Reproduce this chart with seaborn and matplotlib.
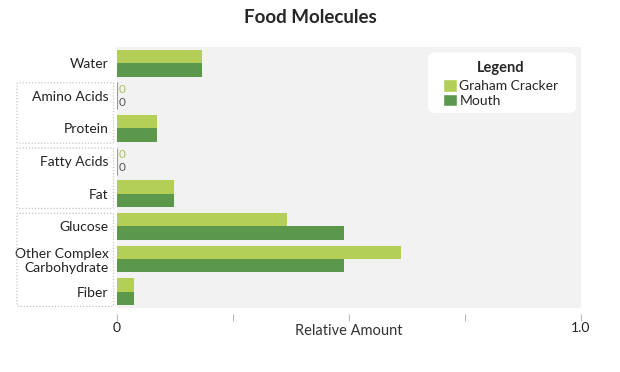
import matplotlib
matplotlib.use("Agg")
import matplotlib.pyplot as plt
import matplotlib.transforms as mtransforms
from matplotlib.patches import FancyBboxPatch, Patch
import pandas as pd
import seaborn as sns

categories = ["Water", "Amino Acids", "Protein", "Fatty Acids", "Fat",
              "Glucose", "Other Complex\nCarbohydrate", "Fiber"]
graham_cracker = [0.183, 0.0, 0.086, 0.0, 0.123, 0.366, 0.612, 0.037]
mouth = [0.183, 0.0, 0.086, 0.0, 0.123, 0.489, 0.489, 0.037]
series = ["Graham Cracker", "Mouth"]
x_ticks = [0, 0.25, 0.5, 0.75, 1.0]
x_tick_labels = ["0", "", "", "", "1.0"]
# label groups framed with dotted boxes: (first row, last row)
groups = [(1, 2), (3, 4), (5, 7)]

LIGHT = "#b3cf57"
DARK = "#5b984b"

sns.set_theme(style="white")
plt.rcParams["font.family"] = ["Lato", "DejaVu Sans"]

df = pd.DataFrame({
    "category": categories * 2,
    "value": graham_cracker + mouth,
    "series": [series[0]] * len(categories) + [series[1]] * len(categories),
})

fig = plt.figure(figsize=(6.2, 3.72), dpi=100)
ax = fig.add_axes([0.1887, 0.172, 0.7484, 0.702])
ax.set_facecolor("#f2f2f2")

sns.barplot(data=df, y="category", x="value", hue="series", order=categories,
            hue_order=series, palette=[LIGHT, DARK], width=0.82,
            saturation=1, ax=ax, legend=False)

for cont, txtcol in zip(ax.containers, ["#a9c25f", "#555555"]):
    labels = []
    for bar in cont:
        if bar.get_width() == 0:
            bar.set_edgecolor("#999999")
            bar.set_linewidth(0.8)
            labels.append("0")
        else:
            bar.set_linewidth(0)
            labels.append("")
    ax.bar_label(cont, labels=labels, padding=1.5, fontsize=8.5, color=txtcol)

ax.set_xlim(0, 1.0)
ax.set_xticks(x_ticks)
ax.set_xticklabels(x_tick_labels)
ax.set_xlabel("Relative Amount", fontsize=10.5, color="#333333", labelpad=-7)
ax.set_ylabel("")
for s in ax.spines.values():
    s.set_visible(False)
ax.spines["bottom"].set_position(("outward", 4))
ax.tick_params(axis="x", length=5, width=0.8, color="#bbbbbb", bottom=True,
               labelsize=10, labelcolor="#222222", pad=1)
ax.tick_params(axis="y", length=0, labelsize=10, labelcolor="#222222", pad=6)

# dotted rounded frames around grouped labels
trans = mtransforms.blended_transform_factory(ax.transAxes, ax.transData)
for a, b in groups:
    y0 = a - 0.4
    h = (b + 0.45) - y0
    box = FancyBboxPatch((-0.2155, y0), 0.208, h, transform=trans,
                         boxstyle="round,pad=0,rounding_size=0.012",
                         fill=False, edgecolor="#c4c4c4", linestyle=(0, (1, 1.5)),
                         linewidth=0.9, clip_on=False)
    ax.add_patch(box)

# white rounded legend panel
panel = FancyBboxPatch((0.670, 0.747), 0.319, 0.230, transform=ax.transAxes,
                       boxstyle="round,pad=0,rounding_size=0.02",
                       facecolor="white", edgecolor="none", zorder=4)
ax.add_patch(panel)

handles = [Patch(facecolor=LIGHT, label=series[0]),
           Patch(facecolor=DARK, label=series[1])]
leg = ax.legend(handles=handles, title="Legend", loc="upper left",
                bbox_to_anchor=(0.702, 0.945), borderaxespad=0, fontsize=10,
                title_fontproperties={"weight": "bold", "size": 10.5},
                frameon=False, handlelength=1.0, handleheight=1.0,
                handletextpad=0.2, labelspacing=0.1, borderpad=0)
leg._legend_box.sep = 3
leg.set_zorder(5)

fig.suptitle("Food Molecules", fontsize=13.5, fontweight="bold", y=0.975, x=0.5)

fig.savefig("out.png", dpi=100)
